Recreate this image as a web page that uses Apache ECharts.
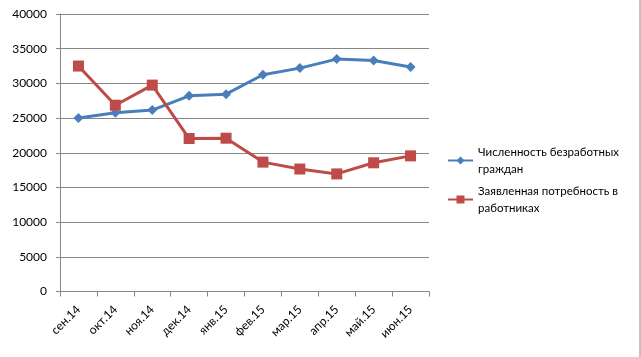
<!DOCTYPE html>
<html><head><meta charset="utf-8">
<script src="https://cdn.jsdelivr.net/npm/echarts@6/dist/echarts.min.js"></script>
<style>html,body{margin:0;padding:0;background:#fff}#c{width:641px;height:357px}</style>
</head><body><div id="c"></div>
<script>
var categories = ['сен.14','окт.14','ноя.14','дек.14','янв.15','фев.15','мар.15','апр.15','май.15','июн.15'];
var unemployed = [25000, 25750, 26150, 28200, 28450, 31250, 32200, 33500, 33300, 32350];
var demand = [32500, 26850, 29750, 22050, 22100, 18650, 17650, 16950, 18550, 19550];
var seriesNames = ['Численность безработных граждан', 'Заявленная потребность в работниках'];
var legendLines = ['Численность безработных\nграждан', 'Заявленная потребность в\nработниках'];
var yTicks = {min: 0, max: 40000, interval: 5000};

var font = 'Lato, "Open Sans", sans-serif';
function legendFor(i, top) {
  return {
    orient: 'vertical', left: 447, top: top, padding: 0,
    itemWidth: 25, itemHeight: 10, itemGap: 0,
    data: [seriesNames[i]],
    formatter: function(){ return legendLines[i]; },
    textStyle: {fontSize: 11.5, color: '#000', fontFamily: font, lineHeight: 17, padding: [17,0,0,0]}
  };
}
var chart = echarts.init(document.getElementById('c'));
chart.setOption({
  animation: false,
  backgroundColor: '#fff',
  textStyle: {fontFamily: font},
  grid: {left: 60, right: 212, top: 14, bottom: 65.5, containLabel: false},
  legend: [legendFor(0, 135), legendFor(1, 174)],
  xAxis: {
    type: 'category', data: categories, boundaryGap: true,
    axisLine: {lineStyle: {color: '#868686', width: 1}},
    axisTick: {show: true, length: 5, inside: false, lineStyle: {color: '#868686'}},
    axisLabel: {rotate: 45, fontSize: 12, color: '#000', margin: 16, fontFamily: font}
  },
  yAxis: {
    type: 'value', min: yTicks.min, max: yTicks.max, interval: yTicks.interval,
    axisLine: {show: true, lineStyle: {color: '#868686'}},
    axisTick: {show: true, length: 4, lineStyle: {color: '#868686'}},
    axisLabel: {fontSize: 12, color: '#000', margin: 13, fontFamily: font,
      formatter: function(v){ return String(v); }},
    splitLine: {lineStyle: {color: '#868686', width: 1}}
  },
  graphic: [{type: 'line', shape: {x1: 640, y1: 0, x2: 640, y2: 357}, style: {stroke: '#868686', lineWidth: 1}}],
  series: [
    {name: seriesNames[0], type: 'line', data: unemployed, symbol: 'diamond', symbolSize: 10,
     lineStyle: {color: '#4A7EBB', width: 3}, itemStyle: {color: '#4A7EBB'}},
    {name: seriesNames[1], type: 'line', data: demand, symbol: 'rect', symbolSize: 11,
     lineStyle: {color: '#BE4B48', width: 3}, itemStyle: {color: '#BE4B48'}}
  ]
});
</script></body></html>
